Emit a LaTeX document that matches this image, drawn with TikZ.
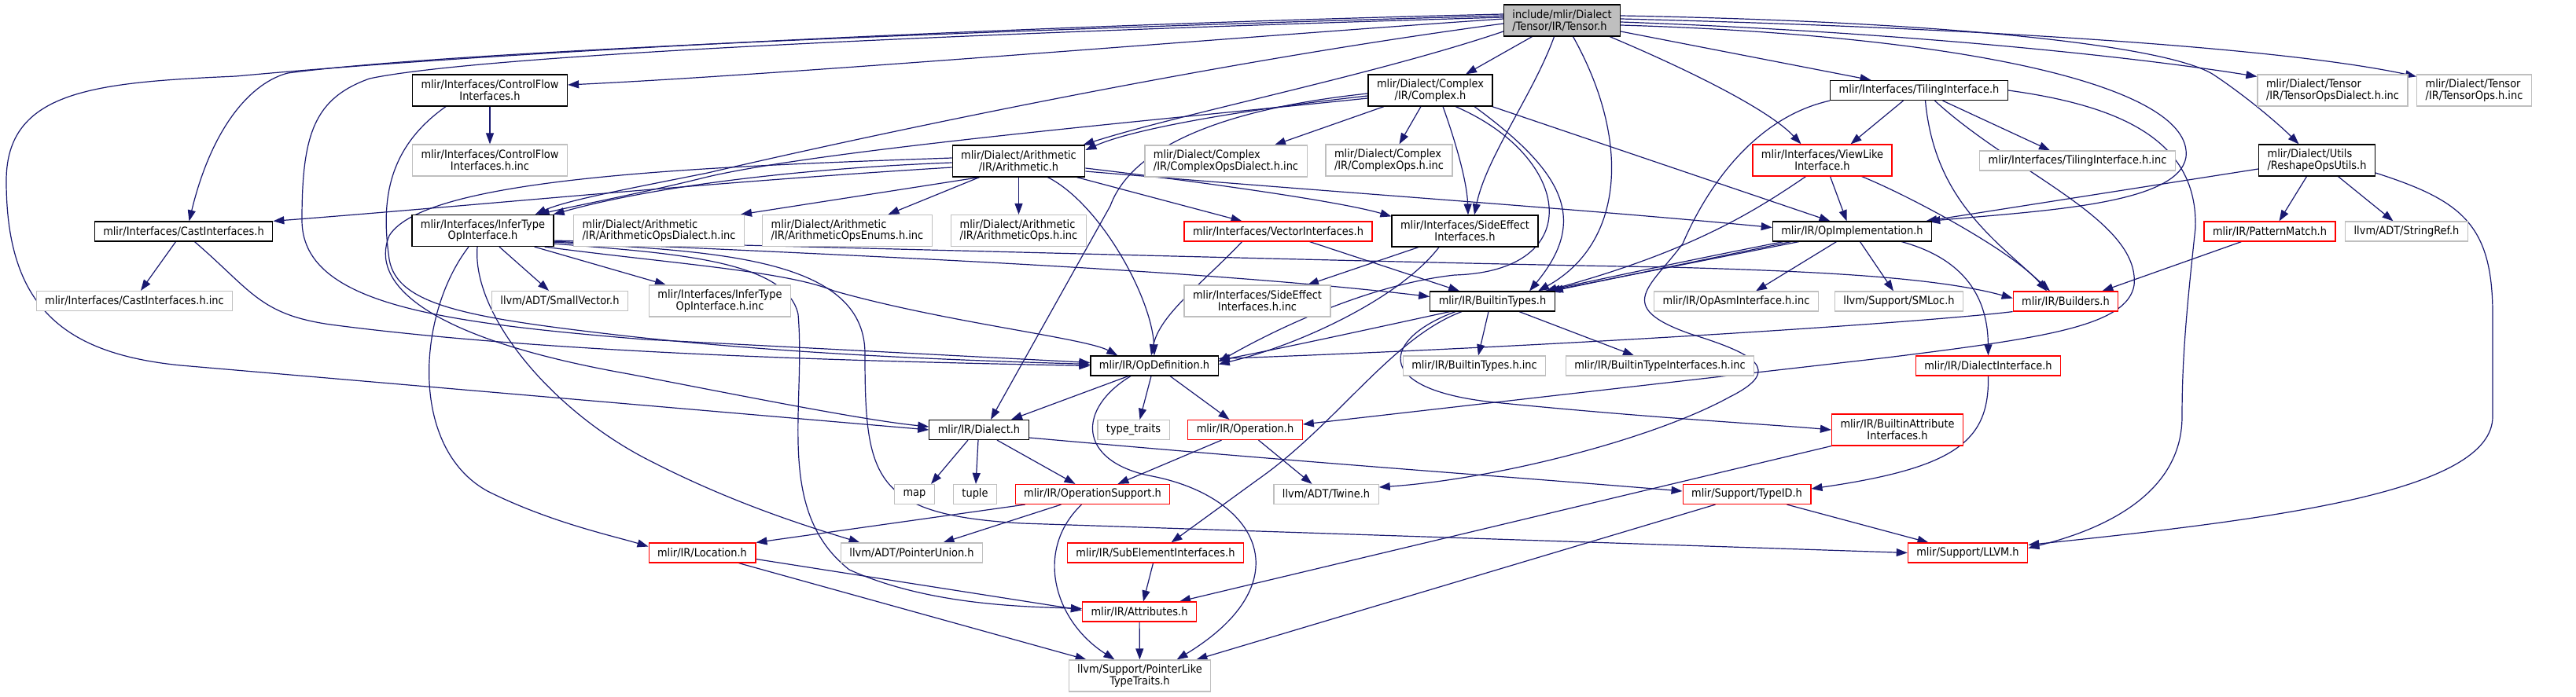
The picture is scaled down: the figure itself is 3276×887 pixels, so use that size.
\documentclass[tikz,border=0pt]{standalone}
\usepackage{fontspec}
\usetikzlibrary{arrows.meta,calc,backgrounds}
\newfontfamily\hdrfont{DejaVu Sans Condensed}
\definecolor{edgeblue}{HTML}{191970}
\definecolor{nodegray}{HTML}{BFBFBF}
\tikzset{
  hdr/.style={draw=black,fill=white,line width=0.6pt,inner xsep=5.5pt,inner ysep=0.5pt,
    minimum height=12.5pt,align=center,font=\hdrfont\fontsize{7.2}{7.4}\selectfont},
  hdrtwo/.style={hdr,minimum height=20pt},
  trunc/.style={draw=red},
  extern/.style={draw=nodegray},
  rootbox/.style={fill=nodegray},
  inc/.style={draw=edgeblue,line width=0.6pt,-{Triangle[length=7pt,width=5pt]}}
}

\begin{document}
\begin{tikzpicture}[x=0.5pt,y=-0.5pt]
  \useasboundingbox (0,0) rectangle (3276,887);

  % rows of the include graph
  \node[hdrtwo,rootbox,align=left] (tensor) at (1986.5,26) {include/mlir/Dialect\\/Tensor/IR/Tensor.h};
  \node[hdrtwo] (cflow) at (623,115) {mlir/Interfaces/ControlFlow\\Interfaces.h};
  \node[hdrtwo] (cplx) at (1819,115) {mlir/Dialect/Complex\\/IR/Complex.h};
  \node[hdr] (tiling) at (2440.5,115) {mlir/Interfaces/TilingInterface.h};
  \node[hdrtwo,extern,align=left] (tensordial) at (2966.5,115) {mlir/Dialect/Tensor\\/IR/TensorOpsDialect.h.inc};
  \node[hdrtwo,extern,align=left] (tensorops) at (3146.5,115) {mlir/Dialect/Tensor\\/IR/TensorOps.h.inc};

  \node[hdrtwo,extern] (cflowinc) at (623,204) {mlir/Interfaces/ControlFlow\\Interfaces.h.inc};
  \node[hdrtwo] (arith) at (1295.5,205) {mlir/Dialect/Arithmetic\\/IR/Arithmetic.h};
  \node[hdrtwo,extern,align=left] (cplxdial) at (1559,205) {mlir/Dialect/Complex\\/IR/ComplexOpsDialect.h.inc};
  \node[hdrtwo,extern,align=left] (cplxops) at (1766.5,204) {mlir/Dialect/Complex\\/IR/ComplexOps.h.inc};
  \node[hdrtwo,trunc] (viewlike) at (2317.5,204) {mlir/Interfaces/ViewLike\\Interface.h};
  \node[hdr,extern] (tilinginc) at (2642,204.5) {mlir/Interfaces/TilingInterface.h.inc};
  \node[hdrtwo,align=left] (reshape) at (2946.5,204) {mlir/Dialect/Utils\\/ReshapeOpsUtils.h};

  \node[hdr] (cast) at (233.5,294.5) {mlir/Interfaces/CastInterfaces.h};
  \node[hdrtwo] (infer) at (614,293.5) {mlir/Interfaces/InferType\\OpInterface.h};
  \node[hdrtwo,extern,align=left] (arithdial) at (838,293.5) {mlir/Dialect/Arithmetic\\/IR/ArithmeticOpsDialect.h.inc};
  \node[hdrtwo,extern,align=left] (arithenum) at (1077.5,293.5) {mlir/Dialect/Arithmetic\\/IR/ArithmeticOpsEnums.h.inc};
  \node[hdrtwo,extern,align=left] (arithops) at (1295.5,293.5) {mlir/Dialect/Arithmetic\\/IR/ArithmeticOps.h.inc};
  \node[hdr,trunc] (vector) at (1625.5,294.5) {mlir/Interfaces/VectorInterfaces.h};
  \node[hdrtwo] (sideeff) at (1863,294) {mlir/Interfaces/SideEffect\\Interfaces.h};
  \node[hdr] (opimpl) at (2355.5,294.5) {mlir/IR/OpImplementation.h};
  \node[hdr,trunc] (pattern) at (2886.5,294.5) {mlir/IR/PatternMatch.h};
  \node[hdr,extern] (stringref) at (3060.5,294.5) {llvm/ADT/StringRef.h};

  \node[hdr,extern] (castinc) at (171,383) {mlir/Interfaces/CastInterfaces.h.inc};
  \node[hdr,extern] (smallvec) at (712,383) {llvm/ADT/SmallVector.h};
  \node[hdrtwo,extern] (inferinc) at (915.5,383) {mlir/Interfaces/InferType\\OpInterface.h.inc};
  \node[hdrtwo,extern] (sideeffinc) at (1599,383) {mlir/Interfaces/SideEffect\\Interfaces.h.inc};
  \node[hdr] (btypes) at (1898,383.5) {mlir/IR/BuiltinTypes.h};
  \node[hdr,extern] (opasm) at (2208,383.5) {mlir/IR/OpAsmInterface.h.inc};
  \node[hdr,extern] (smloc) at (2415,383.5) {llvm/Support/SMLoc.h};
  \node[hdr,trunc] (builders) at (2627,383.5) {mlir/IR/Builders.h};

  \node[hdr] (opdef) at (1468,465.5) {mlir/IR/OpDefinition.h};
  \node[hdr,extern] (btypesinc) at (1875,465.5) {mlir/IR/BuiltinTypes.h.inc};
  \node[hdr,extern] (btifinc) at (2111,465.5) {mlir/IR/BuiltinTypeInterfaces.h.inc};
  \node[hdr,trunc] (dialif) at (2528.5,465.5) {mlir/IR/DialectInterface.h};

  \node[hdr] (dialect) at (1245,547) {mlir/IR/Dialect.h};
  \node[hdr,extern] (traits) at (1441.5,547) {type\_traits};
  \node[hdr,trunc] (operation) at (1583.5,547) {mlir/IR/Operation.h};
  \node[hdrtwo,trunc] (battrif) at (2413,547) {mlir/IR/BuiltinAttribute\\Interfaces.h};

  \node[hdr,extern] (map) at (1163,629) {map};
  \node[hdr,extern] (tuple) at (1240,629) {tuple};
  \node[hdr,trunc] (opsupport) at (1389.5,629) {mlir/IR/OperationSupport.h};
  \node[hdr,extern] (twine) at (1686.5,629) {llvm/ADT/Twine.h};
  \node[hdr,trunc] (typeid) at (2221.5,629) {mlir/Support/TypeID.h};

  \node[hdr,trunc] (location) at (893,703.5) {mlir/IR/Location.h};
  \node[hdr,extern] (ptrunion) at (1159.5,703.5) {llvm/ADT/PointerUnion.h};
  \node[hdr,trunc] (subelem) at (1469.5,703.5) {mlir/IR/SubElementInterfaces.h};
  \node[hdr,trunc] (llvmh) at (2502.5,703.5) {mlir/Support/LLVM.h};
  \node[hdr,trunc] (attrs) at (1449,778.5) {mlir/IR/Attributes.h};
  \node[hdrtwo,extern] (ptrlike) at (1449.5,860) {llvm/Support/PointerLike\\TypeTraits.h};

  \begin{scope}[on background layer]
  % Tensor.h
  \draw[inc] ($(tensor.west)+(0,-8)$) .. controls (1400,30) and (700,60) .. (300,97) .. controls (120,105) and (8,115) .. (8,230) .. controls (8,390) and (80,450) .. (230,465) -- (dialect.west);
  \draw[inc] ($(tensor.west)+(0,-6)$) .. controls (1400,34) and (600,62) .. (366,93) .. controls (320,105) and (270,160) .. ($(cast.north)+(7,0)$);
  \draw[inc] ($(tensor.west)+(0,-4)$) .. controls (1300,40) and (620,68) .. (470,100) .. controls (400,125) and (384,170) .. (384,280) .. controls (384,385) and (550,410) .. (820,432) -- ($(opdef.west)+(0,-4)$);
  \draw[inc] ($(tensor.west)+(0,-2)$) .. controls (1600,45) and (1000,95) .. ($(cflow.east)+(0,-7)$);
  \draw[inc] ($(tensor.west)+(0,14)$) .. controls (1750,95) and (1500,145) .. ($(arith.north east)+(-3,0)$);
  \draw[inc] ($(tensor.west)+(0,4)$) .. controls (1500,85) and (1050,185) .. (900,220) .. controls (800,240) and (720,255) .. ($(infer.north east)+(-24,0)$);
  \draw[inc] ($(tensor.south)+(-38,0)$) -- ($(cplx.north)+(45,0)$);
  \draw[inc] ($(tensor.south)+(-10,0)$) .. controls (1950,120) and (1890,200) .. ($(sideeff.north)+(12,0)$);
  \draw[inc] ($(tensor.south)+(14,0)$) .. controls (2075,180) and (2065,310) .. ($(btypes.north)+(58,0)$);
  \draw[inc] ($(tensor.south east)+(-14,0)$) .. controls (2150,90) and (2250,140) .. ($(viewlike.north)+(-27,0)$);
  \draw[inc] ($(tensor.east)+(0,14)$) -- ($(tiling.north)+(-61,0)$);
  \draw[inc] ($(tensor.east)+(0,6)$) .. controls (2500,45) and (2790,110) .. (2780,200) .. controls (2770,260) and (2600,268) .. ($(opimpl.north east)+(-4,0)$);
  \draw[inc] ($(tensor.east)+(0,-6)$) .. controls (2500,28) and (2760,60) .. (2815,95) .. controls (2860,125) and (2900,160) .. ($(reshape.north)+(-23,0)$);
  \draw[inc] ($(tensor.east)+(0,2)$) .. controls (2400,40) and (2700,70) .. ($(tensordial.north west)+(0,3)$);
  \draw[inc] ($(tensor.east)+(0,-2)$) .. controls (2500,35) and (2900,60) .. ($(tensorops.north west)+(0,3)$);

  % ControlFlowInterfaces.h, CastInterfaces.h
  \draw[inc] (cflow) -- (cflowinc);
  \draw[inc] ($(cflow.south)+(-56,0)$) .. controls (490,190) and (485,260) .. (495,330) .. controls (505,390) and (600,405) .. (800,428) .. controls (1000,450) and (1200,458) .. ($(opdef.west)+(0,-2)$);
  \draw[inc] ($(cast.south)+(-10,0)$) -- ($(castinc.north)+(8,0)$);
  \draw[inc] ($(cast.south)+(14,0)$) .. controls (320,370) and (330,400) .. (420,413) .. controls (700,450) and (1100,460) .. (opdef.west);

  % InferTypeOpInterface.h
  \draw[inc] ($(infer.south east)+(-25,0)$) -- ($(inferinc.north west)+(22,0)$);
  \draw[inc] ($(infer.south)+(21,0)$) -- ($(smallvec.north)+(-14,0)$);
  \draw[inc] ($(infer.south)+(-18,0)$) .. controls (530,400) and (520,570) .. (620,625) .. controls (700,665) and (780,682) .. ($(location.west)+(0,-8)$);
  \draw[inc] ($(infer.south)+(-7,0)$) .. controls (600,400) and (700,520) .. (820,583) .. controls (920,635) and (1010,665) .. ($(ptrunion.north)+(-66,0)$);
  \draw[inc] ($(infer.south east)+(0,-4)$) .. controls (850,322) and (1000,330) .. (1015,400) .. controls (1025,520) and (985,650) .. (1080,725) .. controls (1180,770) and (1300,772) .. ($(attrs.west)+(0,-4)$);
  \draw[inc] ($(infer.south east)+(0,-6)$) .. controls (900,320) and (1100,325) .. (1100,450) .. controls (1100,610) and (1110,655) .. (1300,666) -- (llvmh.west);
  \draw[inc] ($(infer.south east)+(-12,0)$) .. controls (850,335) and (1000,345) .. (1060,370) .. controls (1200,410) and (1380,430) .. ($(opdef.north west)+(35,0)$);
  \draw[inc] ($(infer.south east)+(0,-7)$) .. controls (1000,322) and (1500,340) .. ($(btypes.west)+(0,-6)$);
  \draw[inc] ($(infer.south east)+(0,-8)$) .. controls (1200,318) and (1800,335) .. (2123,340) .. controls (2300,345) and (2460,352) .. ($(builders.west)+(0,-4)$);

  % Arithmetic.h
  \draw[inc] ($(arith.south)+(-50,0)$) -- ($(arithdial.north east)+(-5,0)$);
  \draw[inc] ($(arith.south)+(-50,0)$) -- ($(arithenum.north)+(52,0)$);
  \draw[inc] (arith) -- (arithops);
  \draw[inc] ($(arith.south east)+(-11,0)$) -- ($(vector.north)+(-46,0)$);
  \draw[inc] ($(arith.east)+(0,13)$) .. controls (1700,245) and (2000,265) .. ($(opimpl.west)+(0,-5)$);
  \draw[inc] ($(arith.east)+(0,9)$) .. controls (1500,228) and (1700,255) .. ($(sideeff.north west)+(0,2)$);
  \draw[inc] ($(arith.west)+(0,2)$) .. controls (1000,215) and (820,240) .. ($(infer.north east)+(-1,0)$);
  \draw[inc] ($(arith.west)+(0,8)$) .. controls (900,232) and (600,262) .. (cast.north east);
  \draw[inc] ($(arith.south)+(37,0)$) .. controls (1400,260) and (1465,380) .. (opdef.north);
  \draw[inc] ($(arith.west)+(0,-4)$) .. controls (900,212) and (540,225) .. (495,300) .. controls (470,360) and (540,430) .. (800,476) .. controls (950,505) and (1100,535) .. ($(dialect.west)+(0,-4)$);

  % Complex.h
  \draw[inc] ($(cplx.south)+(-59,0)$) -- ($(cplxdial.north)+(62,0)$);
  \draw[inc] ($(cplx.south)+(-12,0)$) -- ($(cplxops.north)+(13,0)$);
  \draw[inc] ($(cplx.south)+(16,0)$) .. controls (1858,200) and (1866,240) .. ($(sideeff.north)+(4,0)$);
  \draw[inc] ($(cplx.south)+(56,0)$) .. controls (1990,220) and (2020,280) .. ($(btypes.north)+(47,0)$);
  \draw[inc] ($(cplx.south)+(32,0)$) .. controls (2000,200) and (2020,345) .. (1850,350) .. controls (1740,362) and (1620,420) .. ($(opdef.east)+(0,-5)$);
  \draw[inc] ($(cplx.south east)+(-1,0)$) -- ($(opimpl.north)+(-28,0)$);
  \draw[inc] ($(cplx.west)+(0,7)$) .. controls (1620,135) and (1450,160) .. ($(arith.east)+(0,-14)$);
  \draw[inc] ($(cplx.west)+(0,10)$) .. controls (1500,150) and (1050,190) .. (900,225) .. controls (820,245) and (740,260) .. ($(infer.north east)+(-20,0)$);
  \draw[inc] ($(cplx.west)+(0,4)$) .. controls (1560,138) and (1440,185) .. (1412,262) -- ($(dialect.north)+(15,0)$);

  % ViewLikeInterface.h, VectorInterfaces.h, SideEffectInterfaces.h
  \draw[inc] ($(viewlike.south)+(-21,0)$) .. controls (2230,270) and (2150,320) .. ($(btypes.north east)+(-12,0)$);
  \draw[inc] ($(viewlike.south)+(10,0)$) -- ($(opimpl.north)+(-7,0)$);
  \draw[inc] ($(viewlike.south east)+(-39,0)$) .. controls (2430,250) and (2560,320) .. ($(builders.north)+(-24,0)$);
  \draw[inc] ($(vector.south)+(40,0)$) -- ($(btypes.north west)+(38,0)$);
  \draw[inc] ($(vector.south)+(-46,0)$) .. controls (1530,360) and (1475,400) .. ($(opdef.north)+(-4,0)$);
  \draw[inc] ($(sideeff.south)+(-59,0)$) -- ($(sideeffinc.north)+(64,0)$);
  \draw[inc] ($(sideeff.south)+(-33,0)$) .. controls (1780,380) and (1650,440) .. ($(opdef.east)+(0,-2)$);

  % BuiltinTypes.h
  \draw[inc] ($(btypes.south)+(-5,0)$) -- ($(btypesinc.north)+(5,0)$);
  \draw[inc] ($(btypes.south)+(34,0)$) -- ($(btifinc.north)+(-33,0)$);
  \draw[inc] ($(btypes.south)+(-47,0)$) .. controls (1760,430) and (1740,495) .. (1900,512) .. controls (2100,532) and (2250,540) .. (battrif.west);
  \draw[inc] ($(btypes.south)+(-39,0)$) .. controls (1770,430) and (1700,540) .. (1600,610) -- ($(subelem.north)+(20,0)$);

  % OpImplementation.h
  \draw[inc] ($(opimpl.south west)+(34,0)$) -- ($(btypes.north east)+(-8,0)$);
  \draw[inc] ($(opimpl.south west)+(24,0)$) -- ($(btypes.north east)+(-4,0)$);
  \draw[inc] ($(opimpl.south west)+(14,0)$) .. controls (2000,360) and (1700,430) .. ($(opdef.east)+(0,-7)$);
  \draw[inc] ($(opimpl.south)+(-20,0)$) -- ($(opasm.north)+(25,0)$);
  \draw[inc] ($(opimpl.south)+(10,0)$) -- ($(smloc.north)+(-7,0)$);
  \draw[inc] ($(opimpl.south east)+(-39,0)$) .. controls (2500,330) and (2528,380) .. (dialif.north);

  % ReshapeOpsUtils.h, PatternMatch.h
  \draw[inc] ($(reshape.west)+(0,11)$) -- ($(opimpl.north east)+(-8,0)$);
  \draw[inc] ($(reshape.south)+(-13,0)$) -- ($(pattern.north)+(12,0)$);
  \draw[inc] ($(reshape.south)+(27,0)$) -- ($(stringref.north)+(-17,0)$);
  \draw[inc] ($(reshape.east)+(0,16)$) .. controls (3130,255) and (3170,285) .. (3170,400) -- (3170,530) .. controls (3170,625) and (2900,660) .. ($(llvmh.east)+(0,-10)$);
  \draw[inc] ($(pattern.south)+(-36,0)$) -- ($(builders.north east)+(-21,0)$);

  % TilingInterface.h
  \draw[inc] ($(tiling.south)+(-20,0)$) -- ($(viewlike.north)+(36,0)$);
  \draw[inc] ($(tiling.south)+(30,0)$) -- ($(tilinginc.north)+(-35,0)$);
  \draw[inc] ($(tiling.south)+(8,0)$) .. controls (2460,250) and (2530,300) .. ($(builders.north)+(-20,0)$);
  \draw[inc] ($(tiling.south)+(20,0)$) .. controls (2560,220) and (2722,280) .. (2714,363) .. controls (2705,415) and (2600,430) .. (2400,455) -- ($(operation.east)+(0,-7)$);
  \draw[inc] (tiling.south west) .. controls (2230,150) and (2170,240) .. (2140,310) .. controls (2100,365) and (2050,390) .. (2150,425) .. controls (2230,450) and (2270,470) .. (2200,505) .. controls (2100,560) and (1900,610) .. ($(twine.east)+(0,-9)$);
  \draw[inc] (tiling.east) .. controls (2700,135) and (2795,180) .. (2792,290) .. controls (2780,400) and (2775,460) .. (2775,530) .. controls (2775,640) and (2650,680) .. ($(llvmh.east)+(0,-6)$);

  % OpDefinition.h, Operation.h, Dialect.h
  \draw[inc] ($(opdef.south)+(-33,0)$) -- ($(dialect.north)+(41,0)$);
  \draw[inc] ($(opdef.south)+(-4,0)$) -- ($(traits.north)+(8,0)$);
  \draw[inc] ($(opdef.south)+(20,0)$) -- ($(operation.north)+(-20,0)$);
  \draw[inc] ($(opdef.south)+(-30,0)$) .. controls (1370,520) and (1370,585) .. (1460,605) .. controls (1600,630) and (1660,740) .. ($(ptrlike.north)+(47,0)$);
  \draw[inc] ($(operation.south)+(-30,0)$) -- ($(opsupport.north)+(32,0)$);
  \draw[inc] ($(operation.south)+(17,0)$) -- ($(twine.north)+(-18,0)$);
  \draw[inc] ($(dialect.south)+(-14,0)$) -- ($(map.north)+(21,0)$);
  \draw[inc] ($(dialect.south)+(-1,0)$) -- ($(tuple.north)+(1,0)$);
  \draw[inc] ($(dialect.south)+(23,0)$) -- ($(opsupport.north)+(-22,0)$);
  \draw[inc] ($(dialect.east)+(0,10)$) .. controls (1700,592) and (1900,605) .. ($(typeid.west)+(0,-4)$);

  % lower rows
  \draw[inc] ($(opsupport.south west)+(13,0)$) -- (location.north east);
  \draw[inc] ($(opsupport.south)+(-40,0)$) -- ($(ptrunion.north)+(40,0)$);
  \draw[inc] ($(opsupport.south)+(-14,0)$) .. controls (1315,700) and (1340,790) .. ($(ptrlike.north)+(-32,0)$);
  \draw[inc] ($(location.east)+(0,8)$) -- ($(attrs.west)+(0,-2)$);
  \draw[inc] ($(location.south east)+(-22,0)$) -- ($(ptrlike.north west)+(23,0)$);
  \draw[inc] ($(subelem.south)+(-3,0)$) -- ($(attrs.north)+(5,0)$);
  \draw[inc] (attrs) -- (ptrlike);
  \draw[inc] (battrif.south west) -- ($(attrs.north east)+(-22,0)$);
  \draw[inc] ($(typeid.south east)+(-31,0)$) -- ($(llvmh.north)+(-50,0)$);
  \draw[inc] ($(typeid.south)+(-40,0)$) -- ($(ptrlike.north east)+(-19,0)$);
  \draw[inc] (dialif.south) .. controls (2530,560) and (2490,595) .. ($(typeid.east)+(0,-7)$);
  \draw[inc] (builders.south west) .. controls (2450,410) and (2000,440) .. ($(opdef.east)+(0,-9)$);
  \end{scope}
\end{tikzpicture}
\end{document}
